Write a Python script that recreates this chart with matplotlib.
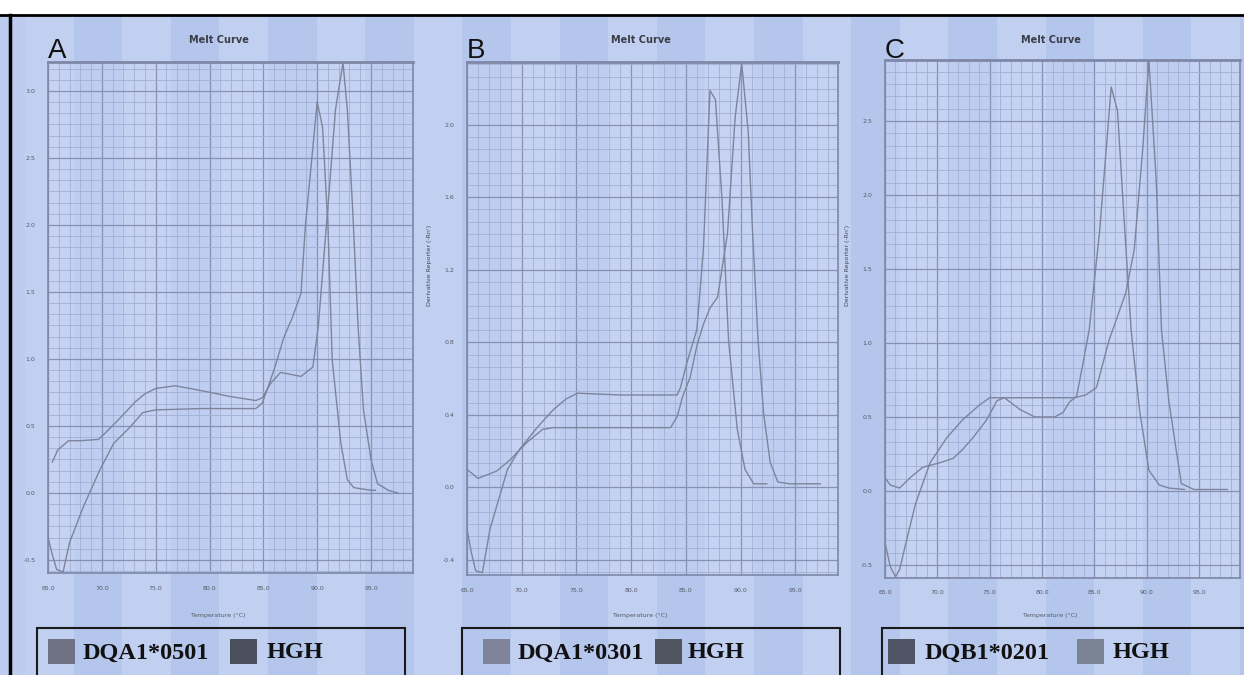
import numpy as np
import matplotlib
matplotlib.use("Agg")
import matplotlib.pyplot as plt
from matplotlib.patches import Rectangle
from matplotlib.ticker import MultipleLocator

# -- Data --

temp_ticks = [65, 70, 75, 80, 85, 90, 95]

# Panel A
a_ticks = [-0.5, 0.0, 0.5, 1.0, 1.5, 2.0, 2.5, 3.0]
a1_temp = [65.0, 65.4, 65.8, 66.4, 67.0, 68.3, 69.8, 71.1, 72.6, 73.8, 75.0, 79.2,
           84.3, 84.9, 86.0, 86.9, 87.7, 88.5, 88.9, 89.4, 90.0, 90.5, 91.0, 91.4,
           92.2, 92.8, 93.4, 95.0, 95.4]
a1_val = [-0.33, -0.46, -0.57, -0.59, -0.37, -0.10, 0.17, 0.37, 0.49, 0.60, 0.62, 0.63,
          0.63, 0.67, 0.92, 1.16, 1.31, 1.49, 1.99, 2.41, 2.92, 2.73, 1.99, 0.99,
          0.37, 0.10, 0.04, 0.02, 0.02]
a2_temp = [65.4, 65.9, 66.9, 68.0, 69.7, 70.6, 71.7, 73.1, 74.0, 75.0, 76.8, 78.2,
           80.1, 81.9, 84.3, 84.9, 85.7, 86.6, 88.5, 89.6, 90.1, 90.6, 91.1, 91.7,
           92.4, 92.8, 93.3, 93.8, 94.3, 95.0, 95.6, 96.6, 97.5]
a2_val = [0.23, 0.32, 0.39, 0.39, 0.40, 0.47, 0.56, 0.68, 0.74, 0.78, 0.80, 0.78,
          0.75, 0.72, 0.69, 0.71, 0.82, 0.90, 0.87, 0.94, 1.24, 1.74, 2.24, 2.86,
          3.21, 2.86, 2.11, 1.24, 0.62, 0.25, 0.07, 0.02, 0.00]

# Panel B
b_ticks = [-0.4, 0.0, 0.4, 0.8, 1.2, 1.6, 2.0]
b1_temp = [65.0, 65.4, 65.8, 66.4, 67.1, 68.7, 69.8, 71.4, 72.9, 74.1, 75.1, 79.0,
           84.2, 84.5, 85.1, 86.0, 86.6, 87.2, 87.7, 88.3, 88.9, 89.7, 90.4, 91.2, 92.4]
b1_val = [-0.23, -0.36, -0.46, -0.47, -0.23, 0.10, 0.21, 0.33, 0.43, 0.49, 0.52, 0.51,
          0.51, 0.55, 0.69, 0.87, 1.31, 2.19, 2.14, 1.59, 0.81, 0.32, 0.10, 0.02, 0.02]
b2_temp = [65.0, 66.0, 67.7, 68.9, 70.5, 71.9, 72.9, 79.0, 83.6, 84.2, 84.7, 85.4,
           86.0, 86.6, 87.2, 87.9, 88.8, 89.5, 90.1, 90.7, 91.1, 91.6, 92.1, 92.7,
           93.4, 94.5, 97.3]
b2_val = [0.10, 0.05, 0.09, 0.15, 0.25, 0.32, 0.33, 0.33, 0.33, 0.39, 0.50, 0.61,
          0.78, 0.90, 0.99, 1.05, 1.40, 2.04, 2.34, 1.96, 1.40, 0.81, 0.41, 0.14,
          0.03, 0.02, 0.02]

# Panel C
c_ticks = [-0.5, 0.0, 0.5, 1.0, 1.5, 2.0, 2.5]
c1_temp = [65.0, 65.5, 66.0, 66.4, 66.9, 67.9, 69.3, 70.9, 72.4, 74.0, 75.0, 76.4,
           77.9, 79.3, 81.2, 82.0, 82.6, 83.3, 83.9, 84.5, 85.5, 86.6, 87.2, 87.9,
           88.5, 89.3, 90.2, 91.2, 92.1, 93.6]
c1_val = [-0.35, -0.51, -0.58, -0.53, -0.38, -0.09, 0.19, 0.36, 0.48, 0.58, 0.63, 0.63,
          0.55, 0.50, 0.50, 0.53, 0.60, 0.64, 0.86, 1.09, 1.76, 2.73, 2.57, 1.76,
          1.09, 0.55, 0.14, 0.04, 0.02, 0.01]
c2_temp = [65.0, 65.5, 66.4, 67.4, 68.6, 70.2, 71.5, 72.4, 73.4, 74.7, 75.7, 76.4,
           83.1, 84.2, 85.2, 85.8, 86.4, 87.4, 88.0, 88.8, 89.6, 90.2, 90.9, 91.4,
           92.1, 92.8, 93.3, 94.5, 97.7]
c2_val = [0.09, 0.04, 0.02, 0.09, 0.16, 0.19, 0.22, 0.28, 0.36, 0.48, 0.61, 0.63,
          0.63, 0.65, 0.70, 0.86, 1.02, 1.22, 1.34, 1.63, 2.30, 2.91, 2.10, 1.09,
          0.61, 0.28, 0.05, 0.01, 0.01]

letters = ["A", "B", "C"]
legend_names = [("DQA1*0501", "HGH"), ("DQA1*0301", "HGH"), ("DQB1*0201", "HGH")]

# -- Layout helpers (pixel boxes on a 1244 x 675 canvas) --

W, H = 1244, 675


def fx(px):
    return px / W


def fy(py):
    return 1 - py / H


fig = plt.figure(figsize=(W / 100, H / 100), dpi=100)
fig.patch.set_facecolor("#bccbee")

# vertical bands of the pasted screenshots (behind the axes)
for i, x0 in enumerate(np.arange(25, W, 48.6)):
    col = "#c1cff0" if i % 2 == 0 else "#b4c6ec"
    fig.patches.append(Rectangle((fx(x0), 0), 48.6 / W, fy(15), transform=fig.transFigure,
                                 facecolor=col, edgecolor="none", zorder=-2))
fig.patches.append(Rectangle((0, fy(15)), 1, 15 / H, transform=fig.transFigure,
                             facecolor="white", edgecolor="none", zorder=-2))
fig.add_artist(plt.Line2D([0, 1], [fy(15), fy(15)], color="black", lw=2))
fig.add_artist(plt.Line2D([fx(10), fx(10)], [0, fy(15)], color="black", lw=2.5))

panels = [
    dict(box=(48, 62, 413, 573), ylim=(-0.597, 3.216), yticks=a_ticks, ystep=0.5 / 6,
         curves=[(a1_temp, a1_val), (a2_temp, a2_val)], ylabel=False),
    dict(box=(467, 62, 838, 575), ylim=(-0.483, 2.347), yticks=b_ticks, ystep=0.4 / 6,
         curves=[(b1_temp, b1_val), (b2_temp, b2_val)], ylabel=True),
    dict(box=(885, 60, 1240, 578), ylim=(-0.588, 2.912), yticks=c_ticks, ystep=0.5 / 6,
         curves=[(c1_temp, c1_val), (c2_temp, c2_val)], ylabel=True),
]

legend_boxes = [(37, 405), (462, 840), (882, 1250)]
legend_sq = [((48, "#6f7282"), (230, "#4b505e")),
             ((483, "#7f849a"), (655, "#50555f")),
             ((888, "#4f5564"), (1077, "#7a8494"))]
legend_txt = [(83, 267), (518, 688), (925, 1113)]

for i, p in enumerate(panels):
    l, t, r, b = p["box"]
    ax = fig.add_axes([fx(l), fy(b), (r - l) / W, (b - t) / H])
    ax.set_facecolor((0.79, 0.84, 0.96, 0.55))
    for xs, ys in p["curves"]:
        ax.plot(xs, ys, color="#7d849c", lw=1.0, zorder=3)
    ax.set_xlim(65, 98.9)
    ax.set_ylim(*p["ylim"])
    ax.set_xticks(temp_ticks)
    ax.set_xticklabels(["%.1f" % v for v in temp_ticks])
    ax.set_yticks(p["yticks"])
    ax.set_yticklabels(["%.1f" % v for v in p["yticks"]])
    ax.xaxis.set_minor_locator(MultipleLocator(1))
    ax.yaxis.set_minor_locator(MultipleLocator(p["ystep"]))
    ax.grid(which="major", color="#8791b4", lw=0.9)
    ax.grid(which="minor", color="#a2afd3", lw=0.6)
    ax.set_axisbelow(True)
    ax.tick_params(which="both", length=0, labelsize=4.5, labelcolor="#555a66", pad=9)
    for s in ax.spines.values():
        s.set_color("#7e87a6")
        s.set_linewidth(1.2)
    ax.spines["top"].set_linewidth(2.0)

    cx = (l + r) / 2
    fig.text(fx(cx - 12), fy(40), "Melt Curve", fontsize=7, fontweight="bold",
             color="#3a3d48", ha="center", va="center", family="Liberation Sans Narrow")
    fig.text(fx(l), fy(58), letters[i], fontsize=20, color="#111111",
             ha="left", va="baseline", family="Liberation Sans")
    fig.text(fx(cx - 12), fy(615), "Temperature (\u00b0C)", fontsize=4.5,
             color="#555a66", ha="center", va="center")
    if p["ylabel"]:
        fig.text(fx(l - 37), fy(265), "Derivative Reporter (-Rn')", fontsize=4.5,
                 color="#444855", ha="center", va="center", rotation=90)

    # legend box
    x0, x1 = legend_boxes[i]
    fig.patches.append(Rectangle((fx(x0), fy(690)), (x1 - x0) / W, 62 / H,
                                 transform=fig.transFigure, facecolor="none",
                                 edgecolor="#1a1a1a", lw=1.5, zorder=5))
    for (sx, col), name, tx in zip(legend_sq[i], legend_names[i], legend_txt[i]):
        fig.patches.append(Rectangle((fx(sx), fy(664)), 27 / W, 25 / H,
                                     transform=fig.transFigure, facecolor=col,
                                     edgecolor="none", zorder=5))
        fig.text(fx(tx), fy(653), name, fontsize=17.5, fontweight="bold", color="#111111",
                 ha="left", va="center", family="Liberation Serif")

fig.savefig("out.png", dpi=100, facecolor=fig.get_facecolor())
